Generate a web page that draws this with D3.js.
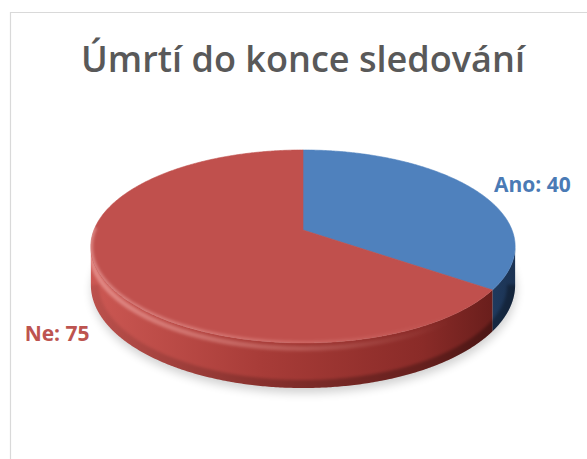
<!DOCTYPE html>
<html>
<head>
<meta charset="utf-8">
<script src="https://cdn.jsdelivr.net/npm/d3@7"></script>
<style>
  html, body { margin: 0; padding: 0; background: #ffffff; }
  svg { display: block; }
</style>
</head>
<body>
<svg id="chart" width="587" height="459"></svg>
<script>
// Data
const categories = ["Ano", "Ne"];
const values = [40, 75];
const chartTitle = "Úmrtí do konce sledování";

// Palette per category: top face, side stops (left -> right), label colour
const topColors = ["#4f81bd", "#c0504d"];
const sideStops = [
  ["#5d8fd0", "#41699c", "#2d5281", "#1b3252"],
  ["#cc5853", "#a83c38", "#8a2b28", "#5f1a18"]
];
const labelColors = ["#4a7ab5", "#bd5450"];

const W = 587, H = 459;
const svg = d3.select("#chart");

// Perspective disk geometry
const cx = 303, cy = 230;      // projected centre of the top face
const R = 209, RY = 93.7;      // horizontal / vertical radii
const P = 0.171;               // perspective strength
const DEPTH = 37.3;            // thickness of the pie

// Angle a is measured clockwise from 12 o'clock (d3.pie convention)
function proj(a, z = 0, r = 1) {
  const u = r * Math.sin(a), v = -r * Math.cos(a);
  const f = 1 / (1 - P * v);
  return [cx + R * u * f, cy + RY * v * f + z * DEPTH * f];
}
function rimPoints(a0, a1, z) {
  const n = Math.max(4, Math.ceil(Math.abs(a1 - a0) / (Math.PI / 360)));
  return d3.range(n + 1).map(i => proj(a0 + (a1 - a0) * i / n, z));
}
const line = d3.line();

// Silhouette of the cylinder wall
const aRight = Math.acos(-P);
const aLeft = 2 * Math.PI - aRight;

const pie = d3.pie().sort(null).value(d => d).startAngle(0).endAngle(2 * Math.PI);
const arcs = pie(values);

const defs = svg.append("defs");

// Chart area background and border
svg.append("rect").attr("x", 0).attr("y", 0).attr("width", W).attr("height", H).attr("fill", "#ffffff");
svg.append("path")
  .attr("d", `M10.5,${H + 5} L10.5,12.5 L${W + 5},12.5`)
  .attr("fill", "none").attr("stroke", "#d9d9d9").attr("stroke-width", 1.2);

// Soft shadow under the pie
defs.append("filter").attr("id", "shadowBlur")
  .attr("x", "-20%").attr("y", "-20%").attr("width", "140%").attr("height", "140%")
  .append("feGaussianBlur").attr("stdDeviation", 5);
svg.append("path")
  .attr("d", line(rimPoints(0, 2 * Math.PI, 1).map(p => [p[0] + 1, p[1] + 5])) + "Z")
  .attr("fill", "#000").attr("opacity", 0.18)
  .attr("filter", "url(#shadowBlur)");

// Side gradients
arcs.forEach((d, i) => {
  const g = defs.append("linearGradient").attr("id", "side" + i)
    .attr("gradientUnits", "userSpaceOnUse")
    .attr("x1", cx - R * 1.02).attr("y1", 0).attr("x2", cx + R * 1.02).attr("y2", 0);
  const st = sideStops[i];
  [0, 0.4, 0.78, 1].forEach((o, k) => g.append("stop").attr("offset", o).attr("stop-color", st[k]));
});

// Cylinder walls (front part only)
arcs.forEach((d, i) => {
  const s0 = Math.max(d.startAngle, aRight), s1 = Math.min(d.endAngle, aLeft);
  if (s1 <= s0) return;
  const top = rimPoints(s0, s1, 0);
  const bot = rimPoints(s1, s0, 1);
  svg.append("path")
    .attr("d", line(top.concat(bot)) + "Z")
    .attr("fill", `url(#side${i})`);
});

// Darker lower edge and lighter bevel along the front rim
defs.append("filter").attr("id", "edgeBlur").append("feGaussianBlur").attr("stdDeviation", 1.8);
const clip = defs.append("clipPath").attr("id", "wallClip");
clip.append("path").attr("d", line(rimPoints(aRight, aLeft, 0).concat(rimPoints(aLeft, aRight, 1))) + "Z");

const shade = defs.append("linearGradient").attr("id", "bottomShade")
  .attr("gradientUnits", "userSpaceOnUse")
  .attr("x1", cx - R).attr("y1", 0).attr("x2", cx + R).attr("y2", 0);
shade.append("stop").attr("offset", 0).attr("stop-color", "#000").attr("stop-opacity", 0.08);
shade.append("stop").attr("offset", 0.5).attr("stop-color", "#000").attr("stop-opacity", 0.22);
shade.append("stop").attr("offset", 1).attr("stop-color", "#000").attr("stop-opacity", 0.3);
const wallG = svg.append("g").attr("clip-path", "url(#wallClip)");
wallG.append("path")
  .attr("d", line(rimPoints(aRight, aLeft, 1)))
  .attr("fill", "none").attr("stroke", "url(#bottomShade)").attr("stroke-width", 16)
  .attr("filter", "url(#edgeBlur)");

const bevel = defs.append("linearGradient").attr("id", "bevelHi")
  .attr("gradientUnits", "userSpaceOnUse")
  .attr("x1", cx - R).attr("y1", 0).attr("x2", cx + R).attr("y2", 0);
bevel.append("stop").attr("offset", 0).attr("stop-color", "#ffc8c4").attr("stop-opacity", 0.45);
bevel.append("stop").attr("offset", 0.45).attr("stop-color", "#ffc0bb").attr("stop-opacity", 0.25);
bevel.append("stop").attr("offset", 0.85).attr("stop-color", "#ffc0bb").attr("stop-opacity", 0.0);
wallG.append("path")
  .attr("d", line(rimPoints(aRight, aLeft, 0.12)))
  .attr("fill", "none").attr("stroke", "url(#bevelHi)").attr("stroke-width", 5)
  .attr("filter", "url(#edgeBlur)");

// Top faces
arcs.forEach((d, i) => {
  const pts = [[cx, cy]].concat(rimPoints(d.startAngle, d.endAngle, 0));
  svg.append("path")
    .attr("d", line(pts) + "Z")
    .attr("fill", topColors[i])
    .attr("stroke", topColors[i]).attr("stroke-width", 0.6);
});

// Soft light rim on the front edge of the top face
const topClip = defs.append("clipPath").attr("id", "topClip");
topClip.append("path").attr("d", line(rimPoints(0, 2 * Math.PI, 0)) + "Z");
svg.append("g").attr("clip-path", "url(#topClip)")
  .append("path")
  .attr("d", line(rimPoints(aRight - 0.2, aLeft + 0.2, 0)))
  .attr("fill", "none").attr("stroke", "url(#bevelHi)").attr("stroke-width", 4)
  .attr("filter", "url(#edgeBlur)");

// Data labels
const labelLayout = [
  { anchor: "start", dx: 19, dy: 2 },
  { anchor: "end", dx: -12, dy: 64 }
];
arcs.forEach((d, i) => {
  const mid = (d.startAngle + d.endAngle) / 2;
  const p = proj(mid, 0);
  const L = labelLayout[i];
  svg.append("text")
    .attr("x", p[0] + L.dx).attr("y", p[1] + L.dy)
    .attr("text-anchor", L.anchor)
    .attr("font-family", "'Open Sans', Lato, sans-serif")
    .attr("font-weight", 700)
    .attr("font-size", 21)
    .attr("fill", labelColors[i])
    .text(`${categories[i]}: ${d.data}`);
});

// Title
svg.append("text")
  .attr("x", 303).attr("y", 72)
  .attr("text-anchor", "middle")
  .attr("font-family", "'Open Sans', Lato, sans-serif")
  .attr("font-weight", 600)
  .attr("font-size", 36)
  .attr("textLength", 444)
  .attr("lengthAdjust", "spacingAndGlyphs")
  .attr("fill", "#595959")
  .text(chartTitle);
</script>
</body>
</html>
